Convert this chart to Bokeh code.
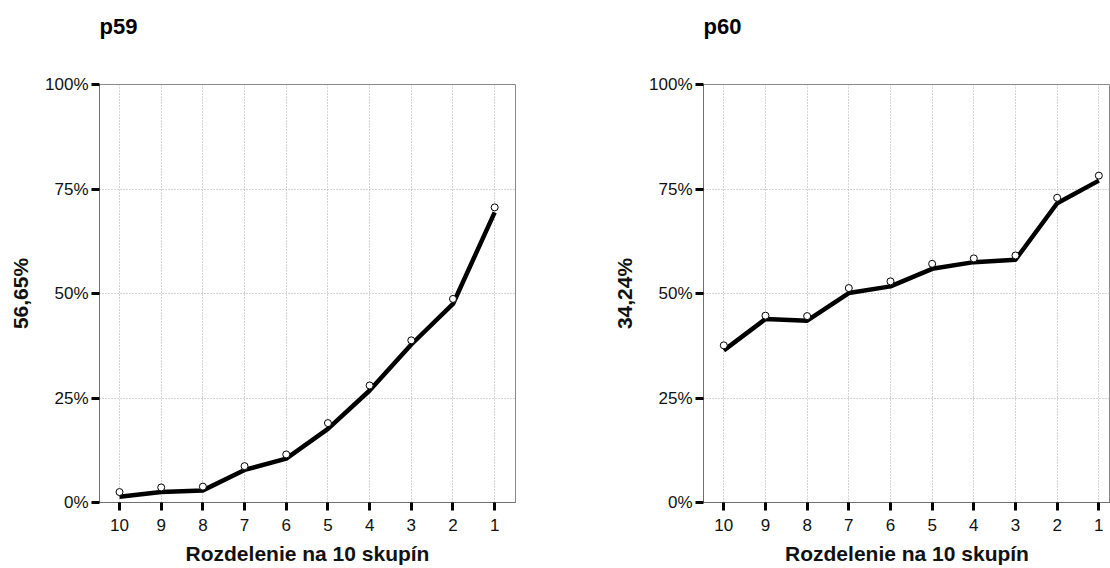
from bokeh.plotting import figure
from bokeh.layouts import row
from bokeh.models import FixedTicker, PrintfTickFormatter, Range1d, ColumnDataSource, Title
from bokeh.embed import file_html
from bokeh.resources import INLINE

# ---- data ----
groups = ["10", "9", "8", "7", "6", "5", "4", "3", "2", "1"]
p59_line = [1.4, 2.5, 2.9, 7.8, 10.5, 17.6, 26.8, 37.8, 47.5, 69.4]
p59_marker = [2.5, 3.6, 3.8, 8.7, 11.5, 19.0, 28.0, 38.8, 48.7, 70.6]
p60_line = [36.4, 43.9, 43.5, 50.1, 51.7, 55.9, 57.5, 58.1, 71.6, 77.0]
p60_marker = [37.6, 44.7, 44.6, 51.3, 52.9, 57.1, 58.4, 59.1, 72.9, 78.2]
titles = ["p59", "p60"]
ylabels = ["56,65%", "34,24%"]
xlabel = "Rozdelenie na 10 skupín"
y_ticks = [0, 25, 50, 75, 100]

FONT = "Liberation Sans"


def make_fig(title, ylabel, line_vals, marker_vals, width, bl, br, x_start, x_end):
    xs = list(range(1, len(groups) + 1))
    src = ColumnDataSource(dict(x=xs, line=line_vals, marker=marker_vals))
    p = figure(width=width, height=568, output_backend="svg", toolbar_location=None,
               x_range=Range1d(x_start, x_end), y_range=Range1d(0, 100),
               min_border_left=bl, min_border_right=br, min_border_top=84,
               min_border_bottom=66)
    # spacer above frame, then the visible title further out
    p.add_layout(Title(text=" ", text_font_size="40px", standoff=0), "above")
    p.add_layout(Title(text=title, text_font=FONT, text_font_size="22px",
                       text_font_style="bold", text_color="black", standoff=0), "above")

    p.outline_line_color = "#8a8a8a"
    p.outline_line_width = 1
    p.background_fill_color = "white"
    p.border_fill_color = "white"

    for ax in (p.xaxis, p.yaxis):
        ax.axis_line_color = "#707070"
        ax.axis_line_width = 1
        ax.major_tick_line_color = "black"
        ax.major_tick_line_width = 3
        ax.major_tick_out = 8
        ax.major_tick_in = 0
        ax.minor_tick_line_color = None
        ax.major_label_text_font = FONT
        ax.major_label_text_font_size = "17px"
        ax.major_label_text_color = "#111111"
        ax.axis_label_text_font = FONT
        ax.axis_label_text_font_style = "bold"
        ax.axis_label_text_color = "#111111"

    p.xaxis.ticker = FixedTicker(ticks=xs)
    p.xaxis.major_label_overrides = {x: g for x, g in zip(xs, groups)}
    p.xaxis.major_label_standoff = 8
    p.xaxis.major_label_text_line_height = 0.8
    p.xaxis.axis_label = xlabel
    p.xaxis.axis_label_text_font_size = "21px"
    p.xaxis.axis_label_text_line_height = 0.8
    p.xaxis.axis_label_standoff = 8

    p.yaxis.ticker = FixedTicker(ticks=y_ticks)
    p.yaxis.formatter = PrintfTickFormatter(format="%d%%")
    p.yaxis.major_label_standoff = 3
    p.yaxis.axis_label = ylabel
    p.yaxis.axis_label_text_font_size = "21px"
    p.yaxis.axis_label_standoff = 10

    p.xgrid.ticker = FixedTicker(ticks=xs)
    p.ygrid.ticker = FixedTicker(ticks=y_ticks)
    for g in (p.xgrid, p.ygrid):
        g.grid_line_color = "#a8a8a8"
        g.grid_line_dash = "1 2"
        g.grid_line_width = 1

    p.line("x", "line", source=src, line_color="black", line_width=4.5,
           line_join="round")
    p.scatter("x", "marker", source=src, marker="circle", size=7,
              fill_color="white", line_color="black", line_width=1)
    return p


p1 = make_fig(titles[0], ylabels[0], p59_line, p59_marker, 568, 99, 53, 0.52, 10.50)
p2 = make_fig(titles[1], ylabels[1], p60_line, p60_marker, 542, 135, 0, 0.513, 10.28)

layout = row(p1, p2)
open("out.html", "w").write(file_html(layout, INLINE))
